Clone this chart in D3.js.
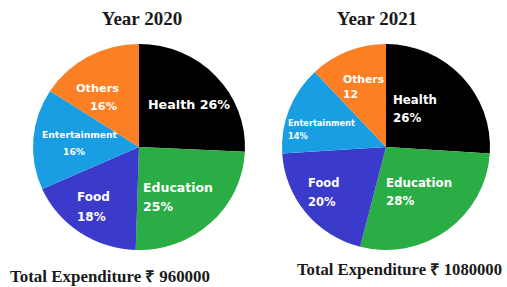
<!DOCTYPE html>
<html><head><meta charset="utf-8">
<script src="https://cdn.jsdelivr.net/npm/d3@7"></script>
<style>body{margin:0;background:#fff}svg{display:block}</style>
</head><body>
<svg id="c" width="507" height="287"></svg>
<script>
const categories = ["Health","Education","Food","Entertainment","Others"];
const values2020 = [26,25,18,16,16];
const values2021 = [26,28,20,14,12];
const labels2020 = [["Health 26%"],["Education","25%"],["Food","18%"],["Entertainment","16%"],["Others","16%"]];
const labels2021 = [["Health","26%"],["Education","28%"],["Food","20%"],["Entertainment","14%"],["Others","12"]];
const titles = ["Year 2020","Year 2021"];
const totals = ["Total Expenditure ₹ 960000","Total Expenditure ₹ 1080000"];

const colors = d3.scaleOrdinal().domain(categories)
  .range(["#000000","#2aad45","#3a3acb","#1a9ee3","#fd7f23"]);

const svg = d3.select("#c");
const charts = [
  {vals: values2020, labels: labels2020, cx:139, cy:147, rx:106, ry:103, tx:142, ty:25, fx:10, fy:282, fw:200,
   lab:[{x:148,y:104,fs:12.7},{x:143,y:187,fs:12.5,dy:19},{x:77,y:197,fs:12,dy:20},{x:42,y:134,fs:9.2,dy:17,x2:63},{x:76,y:88,fs:11.3,dy:18,x2:90}]},
  {vals: values2021, labels: labels2021, cx:386, cy:147, rx:104, ry:103, tx:377, ty:25, fx:297, fy:275, fw:205,
   lab:[{x:393,y:100,fs:11.8,dy:18},{x:386,y:183,fs:11.8,dy:18},{x:308,y:183,fs:11.5,dy:19},{x:288,y:123,fs:8.2,dy:13},{x:343,y:79,fs:10.8,dy:15}]}
];

const pie = d3.pie().sort(null).value(d=>d);
charts.forEach((c,ci)=>{
  const arc = d3.arc().innerRadius(0).outerRadius(c.rx);
  const g = svg.append("g").attr("transform",`translate(${c.cx},${c.cy}) scale(1,${c.ry/c.rx})`);
  g.selectAll("path").data(pie(c.vals)).join("path")
    .attr("d",arc).attr("fill",(d,i)=>colors(categories[i]));
  svg.append("text").attr("x",c.tx).attr("y",c.ty).attr("text-anchor","middle")
    .attr("font-family","Liberation Serif").attr("font-weight","bold").attr("font-size",19)
    .attr("fill","#1a1a1a").text(titles[ci]);
  svg.append("text").attr("x",c.fx).attr("y",c.fy)
    .attr("font-family","Liberation Serif").attr("font-weight","bold").attr("font-size",16)
    .attr("textLength",c.fw).attr("lengthAdjust","spacingAndGlyphs")
    .attr("fill","#1a1a1a").text(totals[ci]);
  c.labels.forEach((lines,i)=>{
    const L = c.lab[i];
    const t = svg.append("text")
      .attr("font-family","DejaVu Sans").attr("font-weight","bold").attr("font-size",L.fs)
      .attr("fill","#ffffff").attr("dominant-baseline","central");
    lines.forEach((s,k)=>{
      t.append("tspan").attr("x",k && L.x2!=null ? L.x2 : L.x).attr("y",L.y + k*(L.dy||0)).text(s);
    });
  });
});
</script>
</body></html>
